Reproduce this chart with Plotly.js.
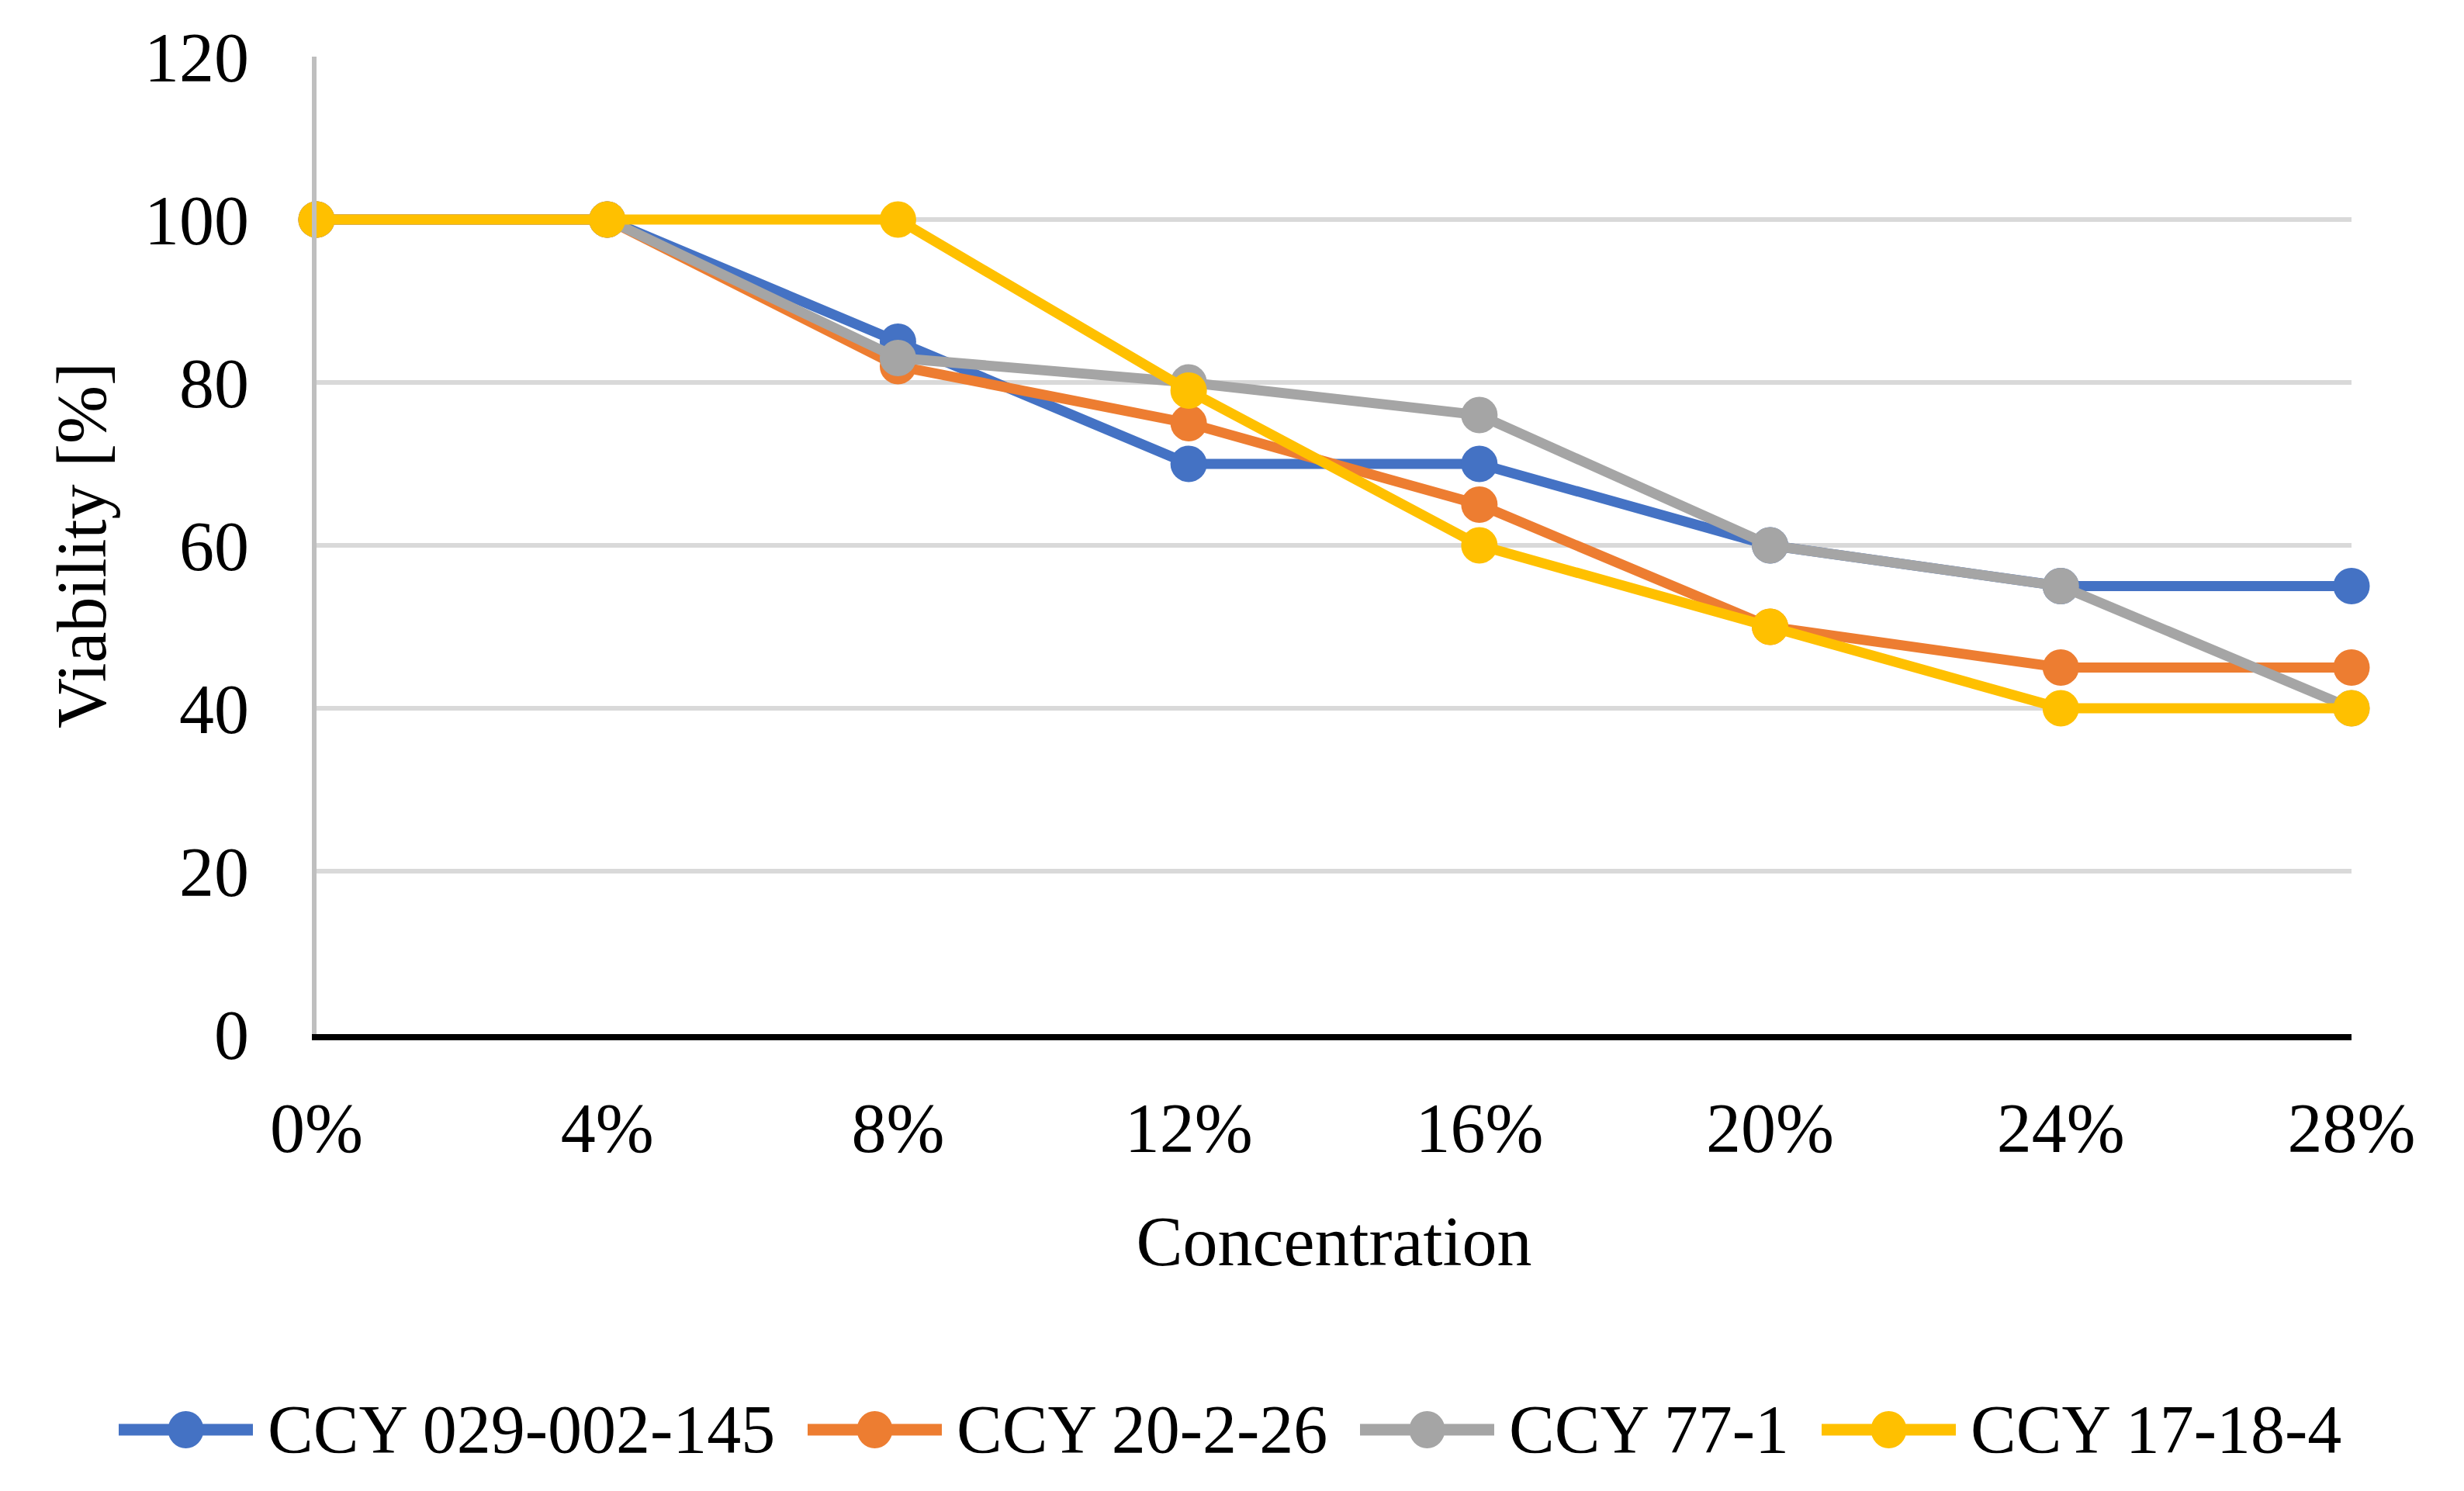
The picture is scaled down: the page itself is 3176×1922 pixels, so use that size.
<!DOCTYPE html>
<html>
<head>
<meta charset="utf-8">
<script src="https://cdn.plot.ly/plotly-3.0.1.min.js"></script>
<style>
  html, body { margin: 0; padding: 0; background: #ffffff; }
  #chart { width: 3176px; height: 1922px; }
</style>
</head>
<body>
<div id="chart"></div>
<script>
// ---- data ----
const categories = ["0%", "4%", "8%", "12%", "16%", "20%", "24%", "28%"];
const seriesNames = ["CCY 029-002-145", "CCY 20-2-26", "CCY 77-1", "CCY 17-18-4"];
const ccy029_002_145 = [100, 100, 85, 70, 70, 60, 55, 55];
const ccy20_2_26     = [100, 100, 82, 75, 65, 50, 45, 45];
const ccy77_1        = [100, 100, 83, 80, 76, 60, 55, 40];
const ccy17_18_4     = [100, 100, 100, 79, 60, 50, 40, 40];
const yTickVals = [0, 20, 40, 60, 80, 100, 120];

const seriesValues = [ccy029_002_145, ccy20_2_26, ccy77_1, ccy17_18_4];
const colors = ["#4472C4", "#ED7D31", "#A5A5A5", "#FFC000"];
const FONT = "'Liberation Serif', 'Times New Roman', serif";

// ---- layout geometry (pixels) ----
const W = 3176, H = 1922;
const M = { l: 408, r: 145, t: 73, b: 589 };
const plotW = W - M.l - M.r, plotH = H - M.t - M.b;
const toPX = px => (px - M.l) / plotW;          // container px -> paper x
const toPY = py => (H - M.b - py) / plotH;      // container px -> paper y

// legend item geometry (Excel-style legend under the chart)
const legendStartX = [153, 1041, 1753, 2348];
const legendLineLen = 173, legendTextGap = 17, legendY = 1843;

const xIdx = categories.map((_, i) => i);

const traces = seriesValues.map((vals, k) => ({
  type: "scatter",
  mode: "lines+markers",
  name: seriesNames[k],
  x: xIdx,
  y: vals,
  cliponaxis: false,
  showlegend: false,
  line: { color: colors[k], width: 13 },
  marker: { color: colors[k], size: 47, symbol: "circle" }
}));

const shapes = [];
const annotations = [];
seriesNames.forEach((name, k) => {
  const x0 = legendStartX[k], x1 = x0 + legendLineLen;
  const yP = toPY(legendY);
  shapes.push({
    type: "line", xref: "paper", yref: "paper",
    x0: toPX(x0), x1: toPX(x1), y0: yP, y1: yP,
    line: { color: colors[k], width: 15 }, layer: "above"
  });
  shapes.push({
    type: "circle", xref: "paper", yref: "paper",
    xsizemode: "pixel", ysizemode: "pixel",
    xanchor: toPX((x0 + x1) / 2), yanchor: yP,
    x0: -23, x1: 23, y0: -24, y1: 24,
    fillcolor: colors[k], line: { width: 0 }, layer: "above"
  });
  annotations.push({
    xref: "paper", yref: "paper",
    x: toPX(x1 + legendTextGap), y: yP,
    xanchor: "left", yanchor: "middle",
    text: name, showarrow: false,
    font: { family: FONT, size: 88, color: "#000000" }
  });
});

const layout = {
  width: W,
  height: H,
  paper_bgcolor: "#ffffff",
  plot_bgcolor: "#ffffff",
  font: { family: FONT, size: 90, color: "#000000" },
  margin: { l: M.l, r: M.r, t: M.t, b: M.b, pad: 0 },
  showlegend: false,
  shapes: shapes,
  annotations: annotations,
  xaxis: {
    range: [0, 7],
    tickmode: "array",
    tickvals: xIdx,
    ticktext: categories,
    showgrid: false,
    zeroline: false,
    showline: true,
    linecolor: "#000000",
    linewidth: 8,
    ticks: "",
    ticklabelstandoff: 36,
    tickfont: { family: FONT, size: 90, color: "#000000" },
    title: { text: "Concentration", font: { family: FONT, size: 90, color: "#000000" }, standoff: 68 },
    automargin: false,
    fixedrange: true
  },
  yaxis: {
    range: [0, 120],
    tickmode: "array",
    tickvals: yTickVals,
    ticktext: yTickVals.map(String),
    showgrid: true,
    gridcolor: "#D9D9D9",
    gridwidth: 6,
    zeroline: false,
    showline: true,
    linecolor: "#BFBFBF",
    linewidth: 6,
    ticks: "",
    ticklabelstandoff: 63,
    tickfont: { family: FONT, size: 90, color: "#000000" },
    title: { text: "Viability [%]", font: { family: FONT, size: 90, color: "#000000" }, standoff: 22 },
    automargin: false,
    fixedrange: true
  }
};

Plotly.newPlot("chart", traces, layout, { staticPlot: true, displayModeBar: false });
</script>
</body>
</html>
